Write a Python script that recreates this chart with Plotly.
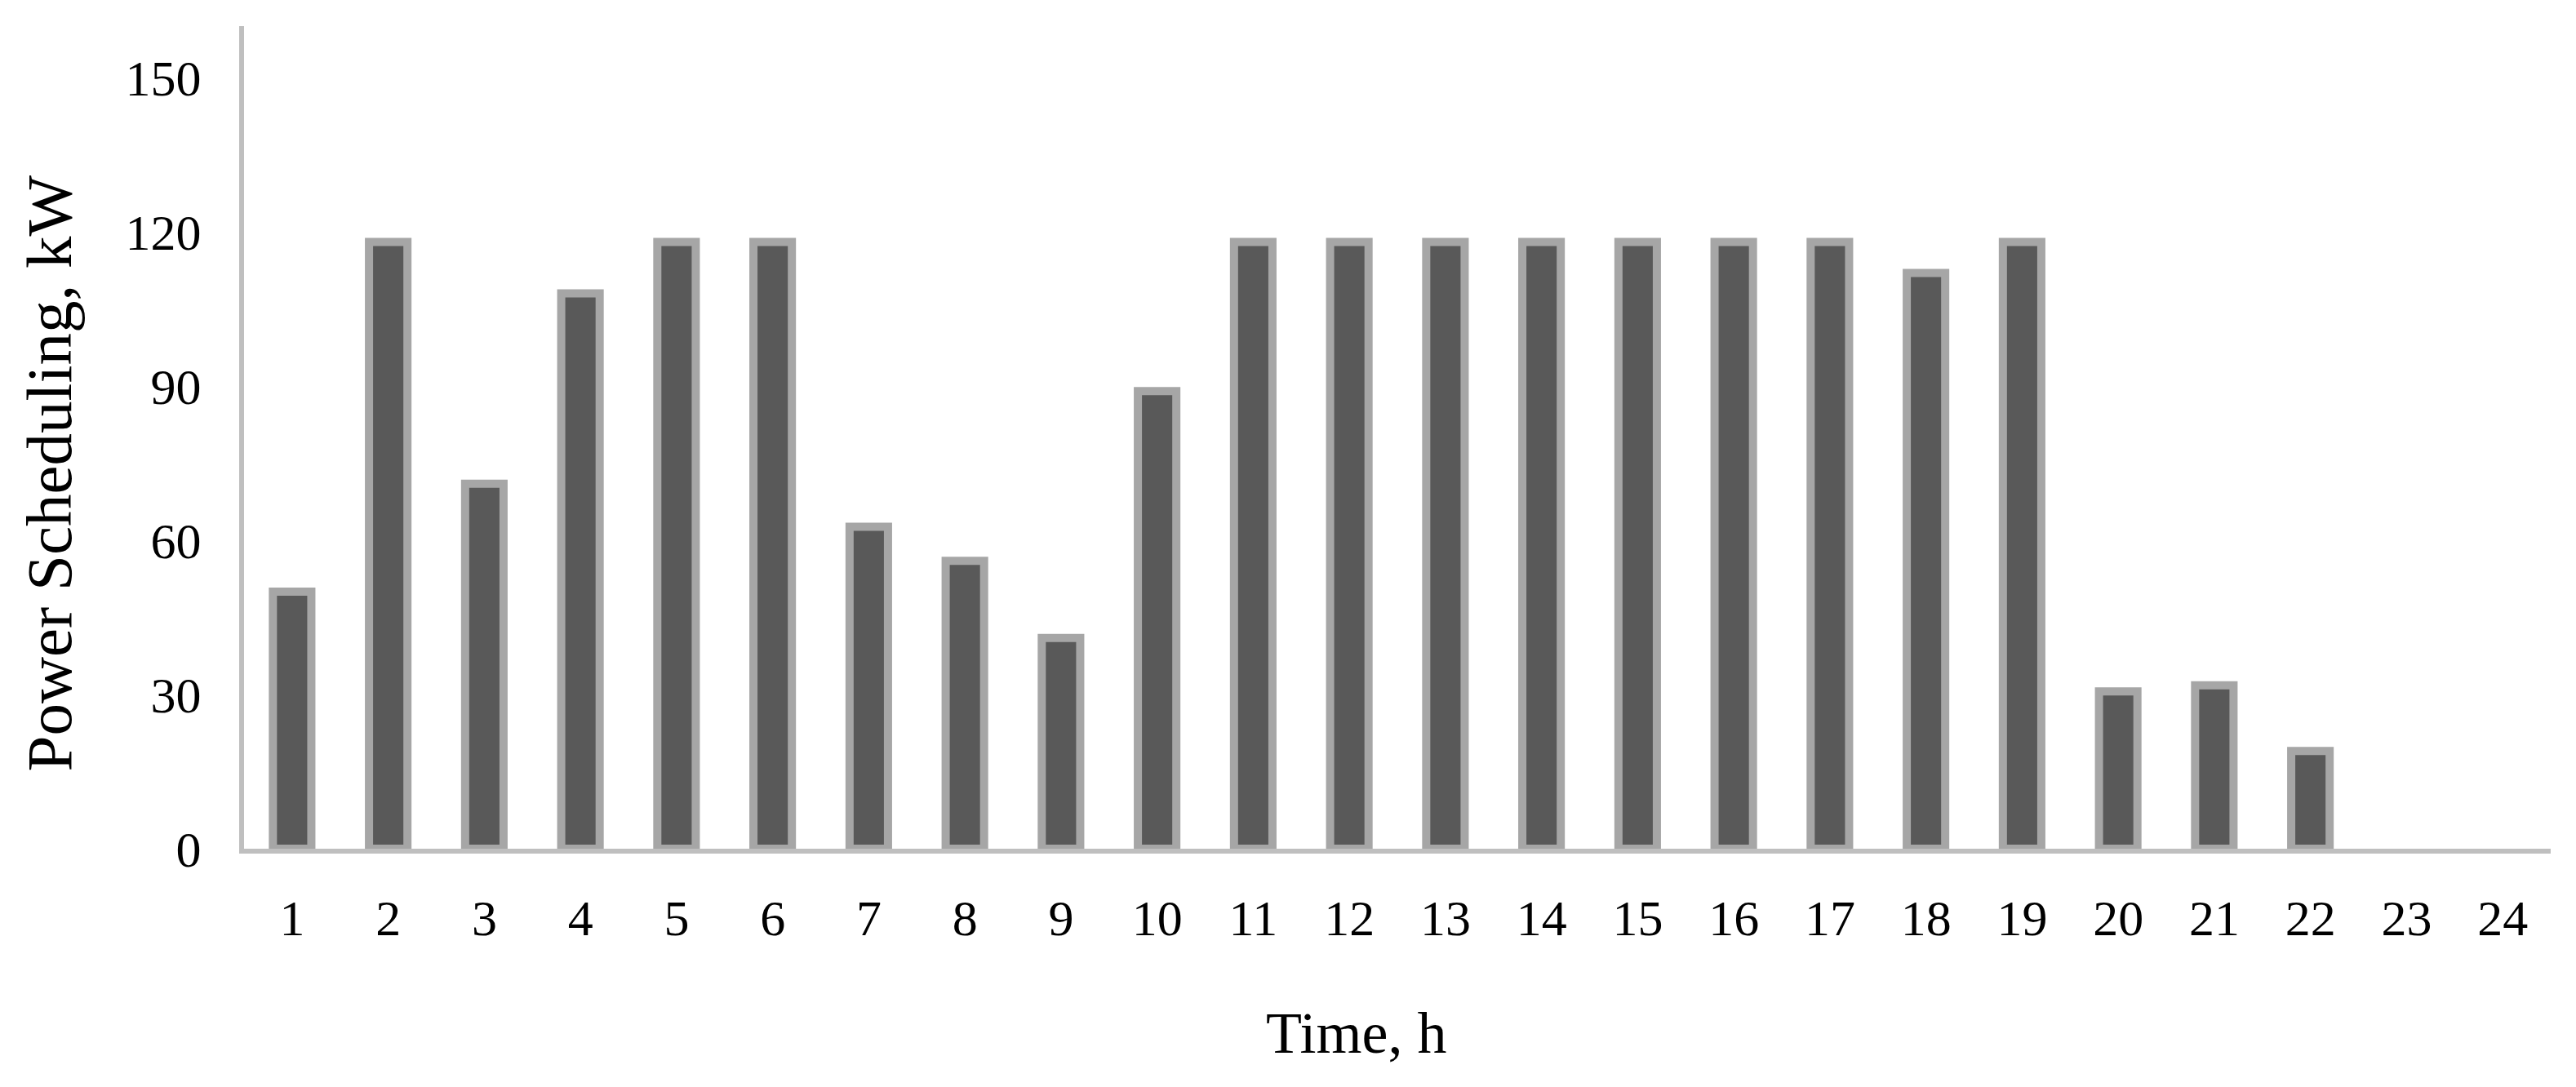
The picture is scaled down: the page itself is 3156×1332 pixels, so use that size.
import plotly.graph_objects as go

hours = list(range(1, 25))
power_kw = [50, 118, 71, 108, 118, 118, 62.6, 56, 41, 89,
            118, 118, 118, 118, 118, 118, 118, 112, 118,
            30.6, 31.8, 19, 0, 0]
y_ticks = [0, 30, 60, 90, 120, 150]

# no outline on empty hours, otherwise a stub shows on the axis
outline_w = [10 if v > 0 else 0 for v in power_kw]

fig = go.Figure()

fig.add_trace(go.Bar(x=hours,
                     y=power_kw,
                     width=0.4,
                     marker=dict(color='#595959',
                                 line=dict(color='#A6A6A6', width=outline_w)),
                     showlegend=False))

fig.update_xaxes(range=[0.5, 24.5],
                 tickvals=hours,
                 ticks='',
                 ticklabelstandoff=26,
                 showgrid=False,
                 zeroline=False,
                 showline=True, linecolor='#BFBFBF', linewidth=6,
                 tickfont=dict(family='Liberation Serif', size=62, color='black'))

fig.update_yaxes(range=[0, 160],
                 tickvals=y_ticks,
                 ticks='',
                 ticklabelstandoff=34,
                 showgrid=False,
                 zeroline=False,
                 showline=True, linecolor='#BFBFBF', linewidth=6,
                 tickfont=dict(family='Liberation Serif', size=62, color='black'))

# axis titles as annotations so they sit where the original has them
fig.add_annotation(text='Time, h', xref='paper', yref='paper',
                   x=0.482, y=-0.224, showarrow=False,
                   xanchor='center', yanchor='middle',
                   font=dict(family='Liberation Serif', size=72, color='black'))
fig.add_annotation(text='Power Scheduling, kW', xref='paper', yref='paper',
                   x=-0.0845, y=0.456, showarrow=False, textangle=-90,
                   xanchor='center', yanchor='middle',
                   font=dict(family='Liberation Serif', size=79, color='black'))

# page body has an 8px margin, so the plot box is pulled up/left by that much
fig.update_layout(width=3156, height=1332,
                  margin=dict(l=291, r=39, t=24, b=300),
                  plot_bgcolor='white',
                  paper_bgcolor='white',
                  bargap=0.6)

fig.write_html("out.html")
